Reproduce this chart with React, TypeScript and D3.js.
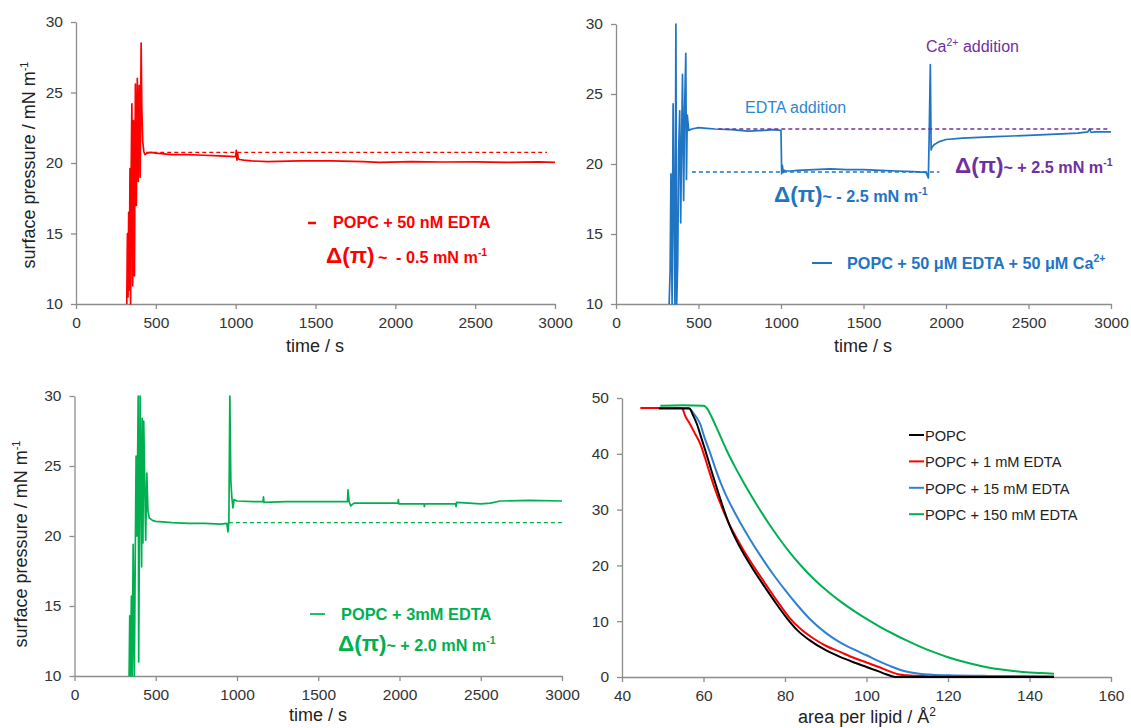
import { useEffect, useRef } from "react";
import * as d3 from "d3";

// panel A: POPC + 50 nM EDTA
const redTime = [318, 322, 326, 330, 334, 338, 342, 346, 350, 355, 360, 366, 372, 378, 384, 390, 396, 402, 408, 412, 418, 425, 432, 445, 470, 500, 600, 700, 800, 900, 1000, 1004, 1008, 1012, 1016, 1025, 1050, 1100, 1200, 1400, 1600, 1800, 1900, 2100, 2300, 2500, 2700, 2900, 3000];
const redPressure = [10, 15, 10.5, 16.5, 11, 19.6, 10, 19.8, 24.2, 11.3, 23, 12, 25.6, 17, 26, 18.7, 25.5, 19, 28.5, 24, 21.5, 20.8, 20.6, 20.7, 20.75, 20.7, 20.6, 20.6, 20.55, 20.5, 20.45, 20.9, 20.2, 20.7, 20.3, 20.25, 20.2, 20.15, 20.1, 20.15, 20.15, 20.1, 20.05, 20.1, 20.07, 20.08, 20.05, 20.08, 20.05];

// panel B: POPC + 50 uM EDTA + 50 uM Ca2+
const blueTime = [322, 328, 333, 340, 346, 352, 357, 363, 368, 374, 380, 386, 392, 398, 403, 410, 416, 423, 427, 432, 441, 460, 500, 550, 600, 700, 800, 900, 950, 1000, 1004, 1008, 1014, 1020, 1030, 1060, 1100, 1200, 1300, 1400, 1500, 1600, 1700, 1800, 1880, 1893, 1898, 1905, 1910, 1915, 1930, 1960, 2000, 2100, 2200, 2300, 2400, 2500, 2600, 2700, 2800, 2860, 2870, 2880, 2900, 3000];
const bluePressure = [10, 12.4, 19.3, 10, 24.3, 16, 10, 30, 10, 13, 21, 23.8, 15.8, 22, 26.4, 17.4, 24, 27.9, 18.9, 23.5, 22.4, 22.5, 22.6, 22.55, 22.5, 22.45, 22.35, 22.4, 22.45, 22.4, 19.3, 19.9, 19.4, 19.55, 19.5, 19.5, 19.55, 19.6, 19.65, 19.6, 19.6, 19.55, 19.5, 19.45, 19.4, 19.0, 22, 27.1, 21.0, 21.2, 21.4, 21.6, 21.75, 21.85, 21.9, 21.95, 22.0, 22.05, 22.1, 22.15, 22.2, 22.3, 22.5, 22.25, 22.3, 22.3];

// panel C: POPC + 3mM EDTA
const greenTime = [336, 340, 344, 350, 355, 361, 368, 379, 384, 392, 395, 404, 413, 417, 421, 426, 438, 445, 452, 460, 482, 500, 600, 700, 800, 900, 938, 944, 950, 956, 962, 968, 975, 982, 1000, 1100, 1160, 1163, 1166, 1300, 1500, 1680, 1683, 1690, 1700, 1720, 1900, 1990, 1993, 1996, 2150, 2153, 2156, 2345, 2348, 2351, 2500, 2560, 2620, 2800, 3000];
const greenPressure = [10, 14.3, 10, 15.7, 10, 19.4, 10, 25.7, 20, 30, 11, 30, 17.8, 28.4, 19.5, 28.2, 19.7, 24.5, 21.8, 21.3, 21.1, 21.05, 20.95, 20.9, 20.9, 20.85, 20.9, 20.3, 21.0, 30, 24, 22.8, 22.0, 22.6, 22.5, 22.45, 22.45, 22.8, 22.4, 22.45, 22.45, 22.45, 23.3, 22.45, 22.15, 22.35, 22.35, 22.35, 22.6, 22.3, 22.3, 22.1, 22.3, 22.3, 22.1, 22.4, 22.3, 22.35, 22.5, 22.55, 22.5];

// panel D: isotherms (area per lipid / surface pressure)
const popcArea = [49, 56.5, 57.5, 58.4, 59.4, 60.4, 61.4, 62.4, 63.6, 64.9, 66.5, 68.2, 70, 72, 74.7, 77.5, 80.4, 83, 86, 90, 93.5, 97, 100, 103, 105, 106.5, 107.5, 146];
const popcPi = [48.1, 48.1, 46.8, 45.3, 43, 40.7, 38.3, 35.9, 33.1, 30.2, 27.0, 24.3, 21.9, 19.5, 16.5, 13.5, 10.6, 8.4, 6.6, 4.8, 3.6, 2.6, 1.8, 1.0, 0.45, 0.1, 0, 0];
const edta1Area = [44.5, 54.7, 55.5, 56.7, 58, 59.2, 60.4, 61.6, 62.8, 64.1, 65.3, 66.5, 68.6, 70.5, 72.5, 75, 78, 81, 84, 87, 90, 93.5, 97, 100, 103, 105.7, 108, 110, 115, 120, 146];
const edta1Pi = [48.2, 48.2, 46.8, 45.3, 43.5, 41.8, 39.2, 36.4, 33.7, 31.2, 29.0, 27.1, 24.3, 21.9, 19.6, 16.9, 13.7, 10.7, 8.5, 6.9, 5.6, 4.5, 3.4, 2.6, 1.8, 1.0, 0.45, 0.3, 0.15, 0.08, 0];
const edta15Area = [49, 56.3, 57.5, 58.3, 59.2, 60.3, 61.6, 62.8, 64.1, 65.5, 67.2, 69, 71.4, 74, 77, 80, 83, 86.1, 90, 93.5, 97, 100, 103, 105.7, 108, 110, 113, 116, 120, 130, 146];
const edta15Pi = [48.2, 48.2, 47.3, 46.5, 45.3, 42.8, 40.2, 37.6, 35.0, 32.6, 30.1, 27.7, 24.7, 21.7, 18.5, 15.6, 12.9, 10.4, 7.9, 6.2, 4.9, 3.9, 2.85, 2.0, 1.35, 0.95, 0.6, 0.42, 0.3, 0.2, 0.15];
const edta150Area = [49.4, 55, 60, 61, 62, 63, 64.1, 65.7, 67.7, 69.8, 71.8, 73.9, 76.3, 78.8, 81.2, 84, 87, 90.2, 93.5, 97, 100, 103.3, 106.5, 109.8, 113, 116.5, 120, 125, 130.2, 135, 140, 146];
const edta150Pi = [48.6, 48.7, 48.6, 48.0, 46.6, 45.0, 43.2, 40.6, 37.7, 34.9, 32.4, 29.9, 27.2, 24.6, 22.3, 19.9, 17.6, 15.5, 13.6, 11.8, 10.4, 9.0, 7.75, 6.55, 5.5, 4.45, 3.55, 2.5, 1.65, 1.15, 0.8, 0.6];

const isoLabels = ["POPC", "POPC + 1 mM EDTA", "POPC + 15 mM EDTA", "POPC + 150 mM EDTA"];
const timeTicks = [0, 500, 1000, 1500, 2000, 2500, 3000];
const pressureTicks = [10, 15, 20, 25, 30];
const areaTicks = [40, 60, 80, 100, 120, 140, 160];
const piTicks = [0, 10, 20, 30, 40, 50];

const FONT = "'Liberation Sans', Arial, sans-serif";
const GREY = "#8c8c8c";
const RED = "#ff0000";
const BLUE = "#1f74c4";
const PURPLE = "#7030a0";
const GREEN = "#00b050";

type Part = { t: string; size: number; weight?: string; dy?: number; x?: number };

function rich(g: any, x: number, y: number, color: string, parts: Part[]) {
  const text = g
    .append("text")
    .attr("x", x)
    .attr("y", y)
    .attr("fill", color)
    .style("font-family", FONT);
  parts.forEach((p) => {
    const s = text
      .append("tspan")
      .attr("font-size", p.size)
      .attr("font-weight", p.weight || "normal")
      .attr("dy", p.dy || 0)
      .text(p.t);
    if (p.x != null) s.attr("x", p.x);
  });
  return text;
}

function styleAxis(a: any) {
  a.select(".domain").attr("stroke", GREY).attr("stroke-width", 1.3);
  a.selectAll(".tick line").attr("stroke", GREY).attr("stroke-width", 1.3);
  a.selectAll(".tick text")
    .attr("fill", "#333")
    .style("font-family", FONT)
    .style("font-size", "15.5px");
}

function makeAxes(g: any, x: any, y: any, xt: number[], yt: number[], h: number) {
  const ax = g
    .append("g")
    .attr("transform", `translate(0,${h})`)
    .call(d3.axisBottom(x).tickValues(xt).tickSize(5).tickSizeOuter(0).tickPadding(8).tickFormat(d3.format("d")));
  styleAxis(ax);
  const ay = g
    .append("g")
    .call(d3.axisLeft(y).tickValues(yt).tickSize(5).tickSizeOuter(0).tickPadding(8).tickFormat(d3.format("d")));
  styleAxis(ay);
}

function yTitle(svg: any, x: number, y: number) {
  const t = svg
    .append("text")
    .attr("transform", `translate(${x},${y}) rotate(-90)`)
    .attr("text-anchor", "middle")
    .attr("fill", "#222")
    .style("font-family", FONT)
    .style("font-size", "18px");
  t.append("tspan").text("surface pressure / mN m");
  t.append("tspan").attr("dy", -7).attr("font-size", 11).text("-1");
}

function xTitle(svg: any, x: number, y: number, label: string, sup?: string) {
  const t = svg
    .append("text")
    .attr("x", x)
    .attr("y", y)
    .attr("text-anchor", "middle")
    .attr("fill", "#222")
    .style("font-family", FONT)
    .style("font-size", "18px");
  t.append("tspan").text(label);
  if (sup) t.append("tspan").attr("dy", -7).attr("font-size", 12).text(sup);
}

function timePanel(svg: any, box: any, time: number[], pressure: number[], color: string) {
  const g = svg.append("g").attr("transform", `translate(${box.left},${box.top})`);
  const x = d3.scaleLinear().domain([0, 3000]).range([0, box.width]);
  const y = d3.scaleLinear().domain([10, 30]).range([box.height, 0]);
  makeAxes(g, x, y, timeTicks, pressureTicks, box.height);
  const pts = time.map((t, i) => [t, pressure[i]] as [number, number]);
  g.append("path")
    .datum(pts)
    .attr("fill", "none")
    .attr("stroke", color)
    .attr("stroke-width", 1.7)
    .attr("stroke-linejoin", "round")
    .attr("d", d3.line().x((d) => x(d[0])).y((d) => y(d[1])));
  return { g, x, y };
}

function dashed(p: any, t0: number, t1: number, v: number, color: string) {
  p.g.append("line")
    .attr("x1", p.x(t0))
    .attr("x2", p.x(t1))
    .attr("y1", p.y(v))
    .attr("y2", p.y(v))
    .attr("stroke", color)
    .attr("stroke-width", 1.3)
    .attr("stroke-dasharray", "4,3");
}

function delta(svg: any, x: number, y: number, color: string, rest: string) {
  rich(svg, x, y, color, [
    { t: "Δ(π)", size: 22.5, weight: "bold" },
    { t: rest, size: 16.2, weight: "bold" },
    { t: "-1", size: 10.5, weight: "bold", dy: -7 },
  ]);
}

const App = () => {
  const ref = useRef<SVGSVGElement>(null);

  useEffect(() => {
    const svg = d3.select(ref.current);
    svg.selectAll("*").remove();

    // A
    const pA = timePanel(svg, { left: 76, top: 22, width: 479, height: 282 }, redTime, redPressure, RED);
    dashed(pA, 440, 2950, 20.75, RED);
    svg.append("line").attr("x1", 308).attr("x2", 316).attr("y1", 223).attr("y2", 223).attr("stroke", RED).attr("stroke-width", 2.5);
    rich(svg, 333, 228, RED, [{ t: "POPC + 50 nM EDTA", size: 16.2, weight: "bold" }]);
    rich(svg, 326, 263, RED, [
      { t: "Δ(π)", size: 22.5, weight: "bold" },
      { t: "~", size: 16.2, weight: "bold", x: 378 },
      { t: "- 0.5 mN m", size: 16.2, weight: "bold", x: 396 },
      { t: "-1", size: 10.5, weight: "bold", dy: -7 },
    ]);
    yTitle(svg, 35, 165);
    xTitle(svg, 315, 352, "time / s");

    // B
    const pB = timePanel(svg, { left: 616, top: 24, width: 495, height: 280 }, blueTime, bluePressure, BLUE);
    dashed(pB, 620, 2995, 22.5, PURPLE);
    dashed(pB, 460, 1960, 19.43, BLUE);
    rich(svg, 745, 113, "#2e86d2", [{ t: "EDTA addition", size: 16 }]);
    rich(svg, 926, 52, PURPLE, [
      { t: "Ca", size: 16 },
      { t: "2+", size: 10.5, dy: -6 },
      { t: " addition", size: 16, dy: 6 },
    ]);
    delta(svg, 774, 202, BLUE, "~ - 2.5 mN m");
    delta(svg, 955, 173, PURPLE, "~ + 2.5 mN m");
    svg.append("line").attr("x1", 812).attr("x2", 832).attr("y1", 263).attr("y2", 263).attr("stroke", BLUE).attr("stroke-width", 2);
    rich(svg, 847, 269, BLUE, [
      { t: "POPC + 50 μM EDTA + 50 μM Ca", size: 16.2, weight: "bold" },
      { t: "2+", size: 10.5, weight: "bold", dy: -7 },
    ]);
    xTitle(svg, 863, 352, "time / s");

    // C
    const pC = timePanel(svg, { left: 74.5, top: 396, width: 487.5, height: 280 }, greenTime, greenPressure, GREEN);
    dashed(pC, 950, 3000, 20.95, GREEN);
    svg.append("line").attr("x1", 310).attr("x2", 325).attr("y1", 614).attr("y2", 614).attr("stroke", GREEN).attr("stroke-width", 1.7);
    rich(svg, 341, 620, GREEN, [{ t: "POPC + 3mM EDTA", size: 16.4, weight: "bold" }]);
    delta(svg, 338, 651, GREEN, "~ + 2.0 mN m");
    yTitle(svg, 27, 544);
    xTitle(svg, 318, 721, "time / s");

    // D
    const box = { left: 622, top: 398, width: 489, height: 279 };
    const g = svg.append("g").attr("transform", `translate(${box.left},${box.top})`);
    const x = d3.scaleLinear().domain([40, 160]).range([0, box.width]);
    const y = d3.scaleLinear().domain([0, 50]).range([box.height, 0]);
    makeAxes(g, x, y, areaTicks, piTicks, box.height);
    const series = [
      { area: edta150Area, pi: edta150Pi, color: GREEN },
      { area: edta15Area, pi: edta15Pi, color: "#2f80d0" },
      { area: edta1Area, pi: edta1Pi, color: RED },
      { area: popcArea, pi: popcPi, color: "#000" },
    ];
    const line = d3.line<[number, number]>().x((d) => x(d[0])).y((d) => y(d[1])).curve(d3.curveMonotoneX);
    series.forEach((s) => {
      g.append("path")
        .datum(s.area.map((a, i) => [a, s.pi[i]] as [number, number]))
        .attr("fill", "none")
        .attr("stroke", s.color)
        .attr("stroke-width", 2)
        .attr("d", line);
    });
    const legendColors = ["#000", RED, "#2f80d0", GREEN];
    isoLabels.forEach((lab, i) => {
      const ly = 435 + i * 26.4;
      svg.append("line").attr("x1", 909).attr("x2", 924).attr("y1", ly).attr("y2", ly).attr("stroke", legendColors[i]).attr("stroke-width", 2);
      rich(svg, 925, ly + 6, "#222", [{ t: lab, size: 14.6 }]);
    });
    xTitle(svg, 867, 723, "area per lipid / Å", "2");
  }, []);

  return (
    <svg
      ref={ref}
      width={1131}
      height={728}
      style={{ position: "absolute", left: 0, top: 0, background: "#fff" }}
    />
  );
};

export default App;
